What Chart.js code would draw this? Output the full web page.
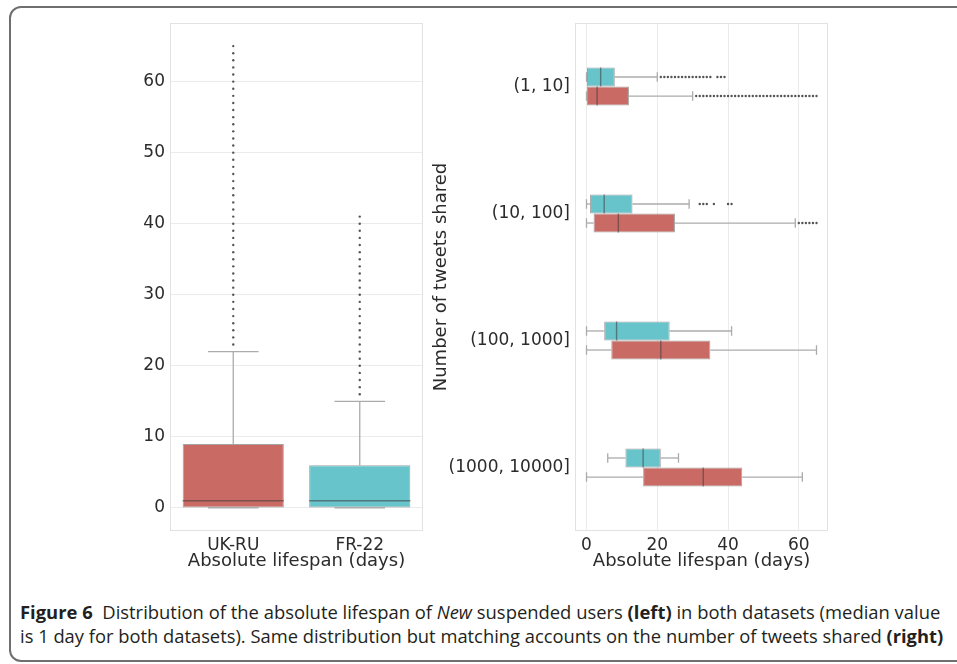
<!DOCTYPE html>
<html lang="en">
<head>
<meta charset="UTF-8">
<title>Figure 6</title>
<script src="https://cdn.jsdelivr.net/npm/chart.js"></script>
<style>
    body {
        margin: 0;
        width: 957px;
        height: 664px;
        overflow: hidden;
        background: #ffffff;
        position: relative;
    }
    .frame {
        position: absolute;
        left: 9px;
        top: 6px;
        width: 1000px;
        height: 652px;
        border: 2px solid #6f6f6f;
        border-radius: 12px;
    }
    #leftChart { position: absolute; left: 100px; top: 0; }
    #rightChart { position: absolute; left: 427px; top: 0; }
    .caption {
        position: absolute;
        left: 20px;
        font-family: 'Open Sans', sans-serif;
        font-size: 18px;
        color: #231f20;
        white-space: nowrap;
        transform-origin: 0 50%;
    }
</style>
</head>
<body>
<div class="frame"></div>
<canvas id="leftChart" width="330" height="576"></canvas>
<canvas id="rightChart" width="413" height="576"></canvas>
<div class="caption" data-w="920" style="top:600px"><b>Figure 6</b>&nbsp; Distribution of the absolute lifespan of <i>New</i> suspended users <b>(left)</b> in both datasets (median value</div>
<div class="caption" data-w="923" style="top:624px">is 1 day for both datasets). Same distribution but matching accounts on the number of tweets shared <b>(right)</b></div>

<script>
// ---- left panel: both datasets ----
const datasetNames = ['UK-RU', 'FR-22'];
const allQ1 = [0, 0];
const allMedian = [1, 1];
const allQ3 = [9, 6];
const allLow = [0, 0];
const allHigh = [22, 15];
const allOutliers = [
    [23, 24, 25, 26, 27, 28, 29, 30, 31, 32, 33, 34, 35, 36, 37, 38, 39, 40, 41, 42, 43, 44,
     45, 46, 47, 48, 49, 50, 51, 52, 53, 54, 55, 56, 57, 58, 59, 60, 61, 62, 63, 64, 65],
    [16, 17, 18, 19, 20, 21, 22, 23, 24, 25, 26, 27, 28, 29, 30, 31, 32, 33, 34, 35, 36, 37,
     38, 39, 40, 41]
];
const lifespanTicks = [0, 10, 20, 30, 40, 50, 60];

// ---- right panel: by number of tweets shared ----
const tweetBins = ['(1, 10]', '(10, 100]', '(100, 1000]', '(1000, 10000]'];
const frQ1 = [0, 1, 5, 11];
const frMedian = [4, 5, 8.5, 16];
const frQ3 = [8, 13, 23.5, 21];
const frLow = [0, 0, 0, 6];
const frHigh = [20, 29, 41, 26];
const frOutliers = [
    [21, 22, 23, 24, 25, 26, 27, 28, 29, 30, 31, 32, 33, 34, 35, 37, 38, 39],
    [32, 33, 34, 36, 40, 41],
    [],
    []
];
const ukQ1 = [0, 2, 7, 16];
const ukMedian = [3, 9, 21, 33];
const ukQ3 = [12, 25, 35, 44];
const ukLow = [0, 0, 0, 0];
const ukHigh = [30, 59, 65, 61];
const ukOutliers = [
    [31, 32, 33, 34, 35, 36, 37, 38, 39, 40, 41, 42, 43, 44, 45, 46, 47, 48, 49, 50, 51, 52,
     53, 54, 55, 56, 57, 58, 59, 60, 61, 62, 63, 64, 65],
    [60, 61, 62, 63, 64, 65],
    [],
    []
];
const dayTicks = [0, 20, 40, 60];

const RED = '#c96a64';
const CYAN = '#67c4cb';
const TEXT = '#2b2b2b';
const GRID = '#ebebeb';
const FONT = "'DejaVu Sans', sans-serif";

// boxes are floating bars [q1, q3]
function boxes(q1, q3) {
    return q1.map((v, i) => [v, q3[i]]);
}

// walk every bar and hand a value->pixel helper to the painter
function eachBox(chart, opts, paint) {
    const horizontal = opts.horizontal;
    const vScale = horizontal ? chart.scales.x : chart.scales.y;
    opts.stats.forEach((s, d) => {
        chart.getDatasetMeta(d).data.forEach((bar, i) => {
            const p = bar.getProps(['x', 'y', 'width', 'height'], true);
            const c = horizontal ? p.y : p.x;
            const half = (horizontal ? p.height : p.width) / 2;
            const pt = (v, off) => horizontal
                ? [vScale.getPixelForValue(v), c + off]
                : [c + off, vScale.getPixelForValue(v)];
            paint(s, i, half, pt);
        });
    });
}

function seg(ctx, a, b) {
    ctx.beginPath();
    ctx.moveTo(a[0], a[1]);
    ctx.lineTo(b[0], b[1]);
    ctx.stroke();
}

// frame + whiskers under the boxes, medians and fliers on top
const boxPlotExtras = {
    id: 'boxPlotExtras',
    beforeDatasetsDraw(chart, args, opts) {
        const a = chart.chartArea;
        const ctx = chart.ctx;
        ctx.save();
        ctx.strokeStyle = '#e2e2e2';
        ctx.lineWidth = 1;
        ctx.strokeRect(a.left + 0.5, a.top + 0.5, a.right - a.left - 1, a.bottom - a.top - 1);
        ctx.strokeStyle = '#ababab';
        ctx.lineWidth = 1.3;
        eachBox(chart, opts, (s, i, half, pt) => {
            seg(ctx, pt(s.q3[i], 0), pt(s.high[i], 0));
            seg(ctx, pt(s.q1[i], 0), pt(s.low[i], 0));
            seg(ctx, pt(s.high[i], -half / 2), pt(s.high[i], half / 2));
            seg(ctx, pt(s.low[i], -half / 2), pt(s.low[i], half / 2));
        });
        ctx.restore();
    },
    afterDatasetsDraw(chart, args, opts) {
        const ctx = chart.ctx;
        ctx.save();
        eachBox(chart, opts, (s, i, half, pt) => {
            ctx.strokeStyle = 'rgba(60,60,60,0.55)';
            ctx.lineWidth = 1.4;
            seg(ctx, pt(s.median[i], -half), pt(s.median[i], half));
            ctx.fillStyle = '#555555';
            s.outliers[i].forEach(v => {
                const q = pt(v, 0);
                ctx.beginPath();
                ctx.arc(q[0], q[1], 1.2, 0, Math.PI * 2);
                ctx.fill();
            });
        });
        ctx.restore();
    }
};

new Chart(document.getElementById('leftChart'), {
    type: 'bar',
    data: {
        labels: datasetNames,
        datasets: [{
            data: boxes(allQ1, allQ3),
            backgroundColor: [RED, CYAN],
            borderColor: 'rgba(90,90,90,0.55)',
            borderWidth: 1,
            borderSkipped: false,
            barPercentage: 0.8,
            categoryPercentage: 1
        }]
    },
    options: {
        responsive: false,
        animation: false,
        layout: { padding: { top: 23, right: 7, left: 0, bottom: 0 } },
        plugins: {
            legend: { display: false },
            tooltip: { enabled: false },
            boxPlotExtras: {
                horizontal: false,
                stats: [{ q1: allQ1, median: allMedian, q3: allQ3, low: allLow, high: allHigh, outliers: allOutliers }]
            }
        },
        scales: {
            x: {
                grid: { display: false, drawTicks: false },
                border: { display: false },
                ticks: { color: TEXT, font: { family: FONT, size: 17 }, padding: 4 },
                title: {
                    display: true, text: 'Absolute lifespan (days)', color: TEXT,
                    font: { family: FONT, size: 18 }, padding: { top: 0, bottom: 4 }
                },
                afterFit: s => { s.height = 45; }
            },
            y: {
                min: -3.25,
                max: 68.25,
                grid: { color: GRID, drawTicks: false },
                border: { display: false },
                ticks: { color: TEXT, font: { family: FONT, size: 17 }, padding: 5 },
                afterBuildTicks: s => { s.ticks = lifespanTicks.map(v => ({ value: v })); },
                afterFit: s => { s.width = 70; }
            }
        }
    },
    plugins: [boxPlotExtras]
});

new Chart(document.getElementById('rightChart'), {
    type: 'bar',
    data: {
        labels: tweetBins,
        datasets: [{
            label: 'FR-22',
            data: boxes(frQ1, frQ3),
            backgroundColor: CYAN,
            borderColor: 'rgba(90,90,90,0.55)',
            borderWidth: 1,
            borderSkipped: false,
            barPercentage: 1,
            categoryPercentage: 0.3
        }, {
            label: 'UK-RU',
            data: boxes(ukQ1, ukQ3),
            backgroundColor: RED,
            borderColor: 'rgba(90,90,90,0.55)',
            borderWidth: 1,
            borderSkipped: false,
            barPercentage: 1,
            categoryPercentage: 0.3
        }]
    },
    options: {
        indexAxis: 'y',
        responsive: false,
        animation: false,
        layout: { padding: { top: 23, right: 12, left: 0, bottom: 0 } },
        plugins: {
            legend: { display: false },
            tooltip: { enabled: false },
            boxPlotExtras: {
                horizontal: true,
                stats: [
                    { q1: frQ1, median: frMedian, q3: frQ3, low: frLow, high: frHigh, outliers: frOutliers },
                    { q1: ukQ1, median: ukMedian, q3: ukQ3, low: ukLow, high: ukHigh, outliers: ukOutliers }
                ]
            }
        },
        scales: {
            x: {
                min: -3.25,
                max: 68.25,
                grid: { color: GRID, drawTicks: false },
                border: { display: false },
                ticks: { color: TEXT, font: { family: FONT, size: 17 }, padding: 4 },
                afterBuildTicks: s => { s.ticks = dayTicks.map(v => ({ value: v })); },
                title: {
                    display: true, text: 'Absolute lifespan (days)', color: TEXT,
                    font: { family: FONT, size: 18 }, padding: { top: 0, bottom: 4 }
                },
                afterFit: s => { s.height = 45; }
            },
            y: {
                grid: { display: false, drawTicks: false },
                border: { display: false },
                ticks: { color: TEXT, font: { family: FONT, size: 17 }, padding: 5 },
                title: {
                    display: true, text: 'Number of tweets shared', color: TEXT,
                    font: { family: FONT, size: 18 }, padding: { top: 4, bottom: 0 }
                },
                afterFit: s => { s.width = 148; }
            }
        }
    },
    plugins: [boxPlotExtras]
});

// squeeze caption lines to the width of the printed figure
document.querySelectorAll('.caption').forEach(el => {
    const w = el.scrollWidth;
    el.style.transform = 'scaleX(' + (Number(el.dataset.w) / w) + ')';
});
</script>
</body>
</html>
